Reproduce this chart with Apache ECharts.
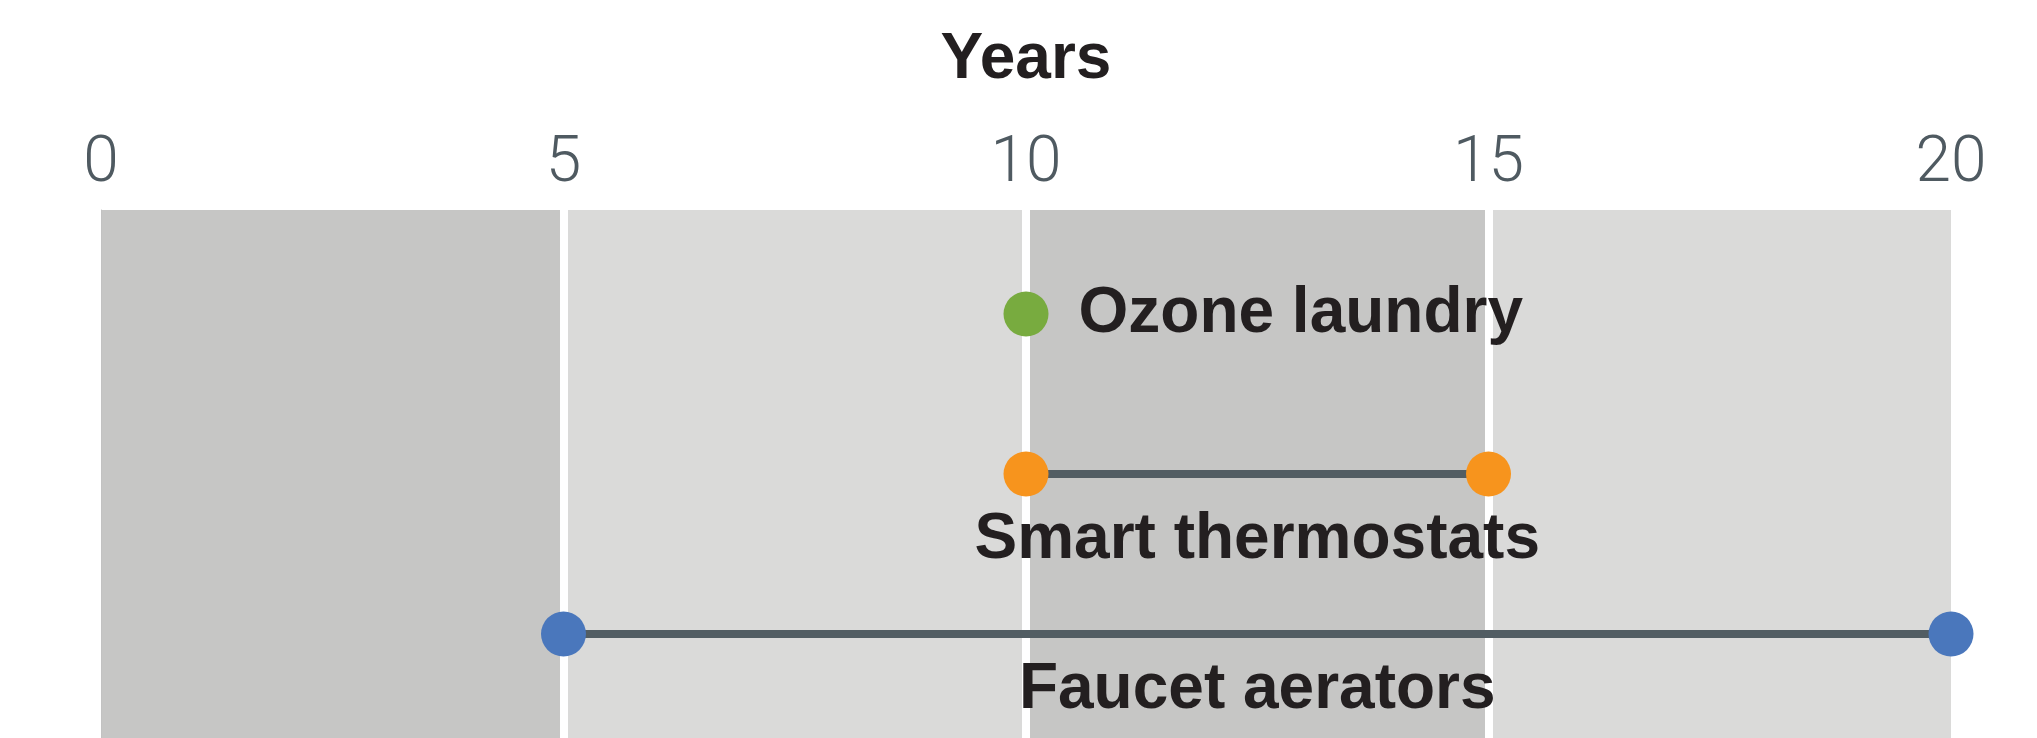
<!DOCTYPE html>
<html>
<head>
<meta charset="utf-8">
<script src="https://cdn.jsdelivr.net/npm/echarts@6/dist/echarts.min.js"></script>
<style>
  html, body { margin: 0; padding: 0; background: #ffffff; }
  #chart { width: 2037px; height: 738px; }
</style>
</head>
<body>
<div id="chart"></div>
<script>
// data
const measures = ['Ozone laundry', 'Smart thermostats', 'Faucet aerators'];
const startYears = [10, 10, 5];
const endYears = [10, 15, 20];
const dotColors = ['#78ab3f', '#f7941d', '#4a77bc'];
const yearTicks = [0, 5, 10, 15, 20];
const dividers = [5, 10, 15];

const chart = echarts.init(document.getElementById('chart'));

const labelFont = {
  fontFamily: '"Liberation Sans", Arial, sans-serif',
  fontWeight: 'bold',
  fontSize: 64,
  color: '#231f20'
};
// how far below the range line each name sits
const labelOffsets = [0, 66, 56];

const series = [
  {
    // white separators between the shaded bands
    type: 'line',
    data: [],
    z: 1,
    markLine: {
      silent: true,
      z: 1,
      symbol: 'none',
      label: { show: false },
      lineStyle: { color: '#ffffff', width: 8, type: 'solid' },
      data: dividers.map(function (d) { return { xAxis: d }; })
    }
  }
];

measures.forEach(function (name, i) {
  const single = startYears[i] === endYears[i];
  const pts = single ? [[startYears[i], i]] : [[startYears[i], i], [endYears[i], i]];
  series.push({
    name: name,
    type: 'line',
    z: 3,
    data: pts,
    symbol: 'circle',
    symbolSize: 45,
    showSymbol: true,
    itemStyle: { color: dotColors[i] },
    lineStyle: { color: '#525d63', width: 8 },
    label: single ? Object.assign({
      show: true,
      position: 'right',
      distance: 30,
      formatter: name
    }, labelFont) : { show: false }
  });
  if (!single) {
    series.push({
      type: 'scatter',
      z: 4,
      silent: true,
      symbolSize: 0,
      itemStyle: { opacity: 1 },
      data: [[(startYears[i] + endYears[i]) / 2, i]],
      label: Object.assign({
        show: true,
        position: 'inside',
        opacity: 1,
        offset: [0, labelOffsets[i]],
        formatter: name
      }, labelFont)
    });
  }
});

chart.setOption({
  animation: false,
  grid: { left: 101, right: 86, top: 210, bottom: 0 },
  xAxis: {
    type: 'value',
    position: 'top',
    min: 0,
    max: 20,
    interval: 5,
    name: 'Years',
    nameLocation: 'middle',
    nameGap: 118,
    nameTextStyle: {
      fontFamily: '"Liberation Sans", Arial, sans-serif',
      fontWeight: 'bold',
      fontSize: 64,
      color: '#231f20'
    },
    axisLine: { show: false },
    axisTick: { show: false },
    splitLine: { show: false },
    splitArea: {
      show: true,
      areaStyle: { color: ['#c6c6c5', '#dadad9'] }
    },
    axisLabel: {
      margin: 13,
      fontFamily: 'Roboto, "Liberation Sans", sans-serif',
      fontWeight: 300,
      fontSize: 64,
      color: '#4f5a61',
      formatter: function (v) { return yearTicks.indexOf(v) >= 0 ? String(v) : ''; }
    }
  },
  yAxis: {
    type: 'value',
    inverse: true,
    position: 'right',
    min: -0.65,
    max: 2.65,
    axisLine: { show: true, lineStyle: { color: '#c2c2c2', width: 1 } },
    axisTick: { show: false },
    axisLabel: { show: false },
    splitLine: { show: false }
  },
  series: series
});
</script>
</body>
</html>
